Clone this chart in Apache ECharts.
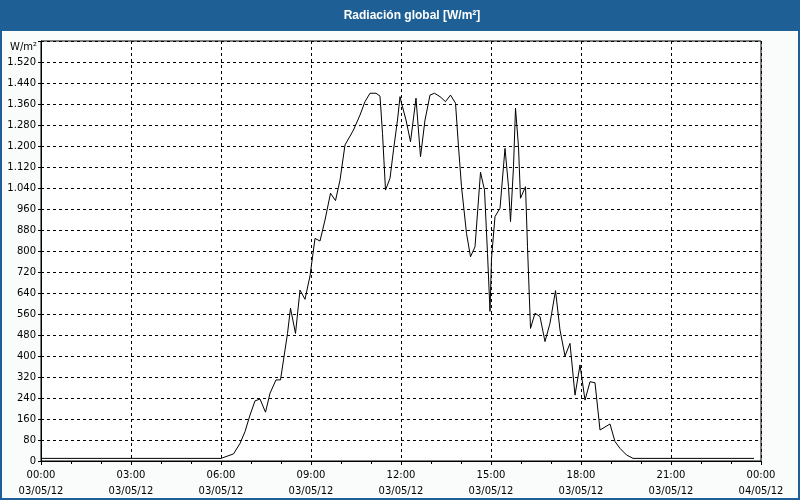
<!DOCTYPE html>
<html><head><meta charset="utf-8">
<script src="https://cdn.jsdelivr.net/npm/echarts@6/dist/echarts.min.js"></script>
<style>html,body{margin:0;padding:0;background:#fafcfc}#c{width:800px;height:500px}</style>
</head><body><div id="c"></div>
<script>
const titleText = 'Radiación global [W/m²]';
const unitLabel = 'W/m²';
const times = ['00:00','06:00','06:25','06:38','06:48','06:58','07:08','07:18','07:29','07:38','07:50','07:59','08:05','08:13','08:19','08:29','08:38','08:48','08:58','09:08','09:18','09:28','09:39','09:49','09:58','10:08','10:25','10:38','10:48','10:58','11:10','11:18','11:23','11:29','11:38','11:45','11:53','11:58','12:01','12:10','12:19','12:30','12:39','12:48','12:58','13:07','13:18','13:29','13:39','13:49','13:55','14:01','14:11','14:19','14:28','14:39','14:47','14:53','14:58','15:01','15:08','15:18','15:28','15:35','15:39','15:45','15:49','15:55','15:59','16:09','16:13','16:19','16:28','16:38','16:48','16:58','17:09','17:18','17:28','17:38','17:48','17:58','18:08','18:18','18:28','18:38','18:58','19:08','19:18','19:31','19:44','23:46'];
const values = [10,10,27,67,112,175,229,236,186,258,309,309,385,486,582,486,651,616,705,848,838,918,1020,992,1070,1204,1261,1318,1369,1401,1401,1390,1248,1032,1077,1185,1299,1388,1363,1299,1216,1382,1159,1299,1394,1401,1388,1369,1394,1363,1197,1045,867,778,816,1100,1032,791,570,772,931,963,1191,1045,912,1121,1344,1197,1001,1045,816,505,563,550,455,525,649,499,400,448,251,366,232,302,298,118,141,74,48,23,10,10];
const xTickHours = [0,3,6,9,12,15,18,21,24];
const xTickLabels = ['00:00\n03/05/12','03:00\n03/05/12','06:00\n03/05/12','09:00\n03/05/12','12:00\n03/05/12','15:00\n03/05/12','18:00\n03/05/12','21:00\n03/05/12','00:00\n04/05/12'];

function toHours(t){const p=t.split(':');return +p[0]+(+p[1])/60;}
const data = times.map((t,i)=>[toHours(t),values[i]]);
function fmtY(v){
  if(v>=1600) return '';
  if(v>=1000){const r=v%1000;return Math.floor(v/1000)+'.'+String(r).padStart(3,'0');}
  return String(v);
}
const chart = echarts.init(document.getElementById('c'));
const F='DejaVu Sans';
chart.setOption({
  animation:false,
  backgroundColor:'#fafcfc',
  grid:{left:41,right:39,top:41,bottom:39,show:true,borderColor:'#000',borderWidth:1,backgroundColor:'#ffffff'},
  xAxis:{type:'value',min:0,max:24,interval:3,
    axisLine:{show:true,lineStyle:{color:'#000',width:1}},
    axisTick:{show:true,length:4,lineStyle:{color:'#000'}},
    minorTick:{show:true,splitNumber:3,length:3,lineStyle:{color:'#000'}},
    splitLine:{show:true,lineStyle:{color:'#000',type:[3,3],width:1}},
    axisLabel:{color:'#000',fontFamily:F,fontSize:10,lineHeight:16,margin:6,
      formatter:function(v){const i=xTickHours.indexOf(v);return i>=0?xTickLabels[i]:'';}}
  },
  yAxis:{type:'value',min:0,max:1600,interval:80,
    axisLine:{show:true,lineStyle:{color:'#000',width:1}},
    axisTick:{show:true,length:3,lineStyle:{color:'#000'}},
    splitLine:{show:true,lineStyle:{color:'#000',type:[3,3],width:1}},
    axisLabel:{color:'#000',fontFamily:F,fontSize:10,margin:5,formatter:fmtY}
  },
  series:[{type:'line',data:data,showSymbol:false,symbol:'none',lineStyle:{color:'#000',width:1},smooth:false}],
  graphic:[
    {type:'rect',shape:{x:0,y:0,width:800,height:31},style:{fill:'#1e6096'},z:10},
    {type:'text',x:412,y:16,style:{text:titleText,fill:'#ffffff',font:'bold 12px "Liberation Sans"',textAlign:'center',textVerticalAlign:'middle'},z:11},
    {type:'text',x:37,y:47,style:{text:unitLabel,fill:'#000',font:'10px "DejaVu Sans"',textAlign:'right',textVerticalAlign:'middle'},z:11},
    {type:'rect',shape:{x:1,y:1,width:798,height:498},style:{fill:'none',stroke:'#1e6096',lineWidth:2},z:12}
  ]
});
</script></body></html>
